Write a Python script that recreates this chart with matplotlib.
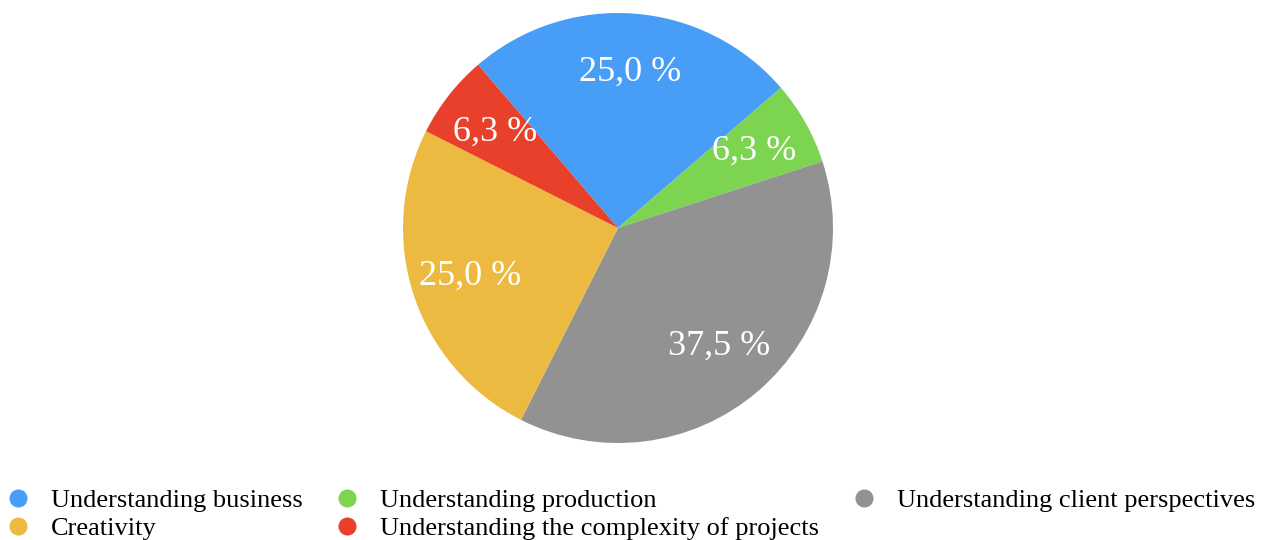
import matplotlib.pyplot as plt
from matplotlib.lines import Line2D
import numpy as np

plt.rcParams['font.family'] = ['Liberation Serif', 'DejaVu Serif']

# shares in percent, in the order the wedges run (clockwise)
categories = ['Understanding business', 'Understanding production',
              'Understanding client perspectives', 'Creativity',
              'Understanding the complexity of projects']
shares = [25.0, 6.3, 37.5, 25.0, 6.3]
colors = ['#489EF6', '#7DD450', '#929292', '#ECBA40', '#E8402A']

# legend reads column by column
legend_order = [0, 3, 1, 4, 2]

fig = plt.figure(figsize=(12.71, 5.4), dpi=100)
ax = fig.add_axes([403/1271, 97/540, 430/1271, 430/540])

wedges, _ = ax.pie(shares, colors=colors, startangle=130.6, counterclock=False,
                   radius=1.0, wedgeprops=dict(linewidth=0))
ax.set_xlim(-1, 1)
ax.set_ylim(-1, 1)
ax.set_aspect('equal')
ax.axis('off')

for w, s in zip(wedges, shares):
    mid = np.deg2rad((w.theta1 + w.theta2) / 2)
    lbl = f"{s:.1f} %".replace('.', ',')
    ax.text(0.725*np.cos(mid), 0.725*np.sin(mid), lbl, color='white',
            fontsize=26, ha='center', va='center')

handles = [Line2D([], [], marker='o', linestyle='none', markersize=13,
                  markerfacecolor=colors[i], markeredgecolor='none')
           for i in legend_order]
names = [categories[i] for i in legend_order]
fig.legend(handles, names, loc='lower left', bbox_to_anchor=(-0.011, -0.034),
           ncol=3, frameon=False, fontsize=19, handlelength=1.0,
           handletextpad=0.75, columnspacing=1.2, labelspacing=0.17,
           borderaxespad=0.3)

fig.savefig('out.png', dpi=100, facecolor='white')
